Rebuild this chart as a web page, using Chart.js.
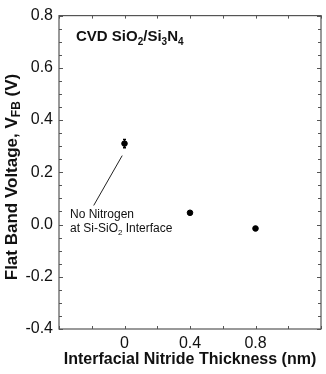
<!DOCTYPE html>
<html>
<head>
<meta charset="UTF-8">
<title>Flat Band Voltage vs Interfacial Nitride Thickness</title>
<script src="https://cdn.jsdelivr.net/npm/chart.js@4/dist/chart.umd.min.js"></script>
<style>
	html, body { margin: 0; padding: 0; background: #fff; }
	#wrap { width: 326px; height: 374px; }
</style>
</head>
<body>
<div id="wrap"><canvas id="vfbChart" width="326" height="374"></canvas></div>
<script>
	// data
	var thickness = [0, 0.4, 0.8];          // nm
	var vfb = [0.31, 0.045, -0.015];        // V
	var vfbErr = [0.016, 0, 0];             // +/- V
	var xTickLabels = [0, 0.4, 0.8];
	var yTickLabels = [-0.4, -0.2, 0.0, 0.2, 0.4, 0.6, 0.8];

	var FONT = '"Liberation Sans", Arial, sans-serif';
	var INK = '#111';
	var AXIS = '#555';

	// text made of runs, some of them subscripts
	function runsWidth(ctx, runs, size) {
		var w = 0;
		runs.forEach(function (r) {
			ctx.font = 'bold ' + (r.sub ? Math.round(size * 0.68) : size) + 'px ' + FONT;
			w += ctx.measureText(r.t).width;
		});
		return w;
	}
	function drawRuns(ctx, runs, x, y, size, weight) {
		var cx = x;
		runs.forEach(function (r) {
			ctx.font = weight + ' ' + (r.sub ? Math.round(size * 0.68) : size) + 'px ' + FONT;
			ctx.fillText(r.t, cx, r.sub ? y + size * 0.3 : y);
			cx += ctx.measureText(r.t).width;
		});
	}

	var extras = {
		id: 'extras',
		afterDatasetsDraw: function (chart) {
			var ctx = chart.ctx, a = chart.chartArea;
			var xs = chart.scales.x, ys = chart.scales.y;
			ctx.save();

			// frame
			ctx.strokeStyle = AXIS;
			ctx.lineWidth = 1.2;
			ctx.strokeRect(a.left, a.top, a.right - a.left, a.bottom - a.top);

			// inward ticks
			ctx.lineWidth = 1;
			ctx.beginPath();
			for (var i = 0; i <= 24; i++) {
				var v = -0.4 + i * 0.05;
				var py = Math.round(ys.getPixelForValue(v)) + 0.5;
				var len = (i % 4 === 0) ? 4 : 3;
				ctx.moveTo(a.left, py); ctx.lineTo(a.left + len, py);
				ctx.moveTo(a.right, py); ctx.lineTo(a.right - len, py);
			}
			for (var j = 0; j <= 8; j++) {
				var u = -0.4 + j * 0.2;
				var px = Math.round(xs.getPixelForValue(u)) + 0.5;
				ctx.moveTo(px, a.bottom); ctx.lineTo(px, a.bottom - 3);
				ctx.moveTo(px, a.top); ctx.lineTo(px, a.top + 3);
			}
			ctx.stroke();

			// error bars
			ctx.strokeStyle = '#000';
			ctx.lineWidth = 1.3;
			thickness.forEach(function (t, k) {
				if (!vfbErr[k]) return;
				var px = xs.getPixelForValue(t);
				var top = ys.getPixelForValue(vfb[k] + vfbErr[k]);
				var bot = ys.getPixelForValue(vfb[k] - vfbErr[k]);
				ctx.beginPath();
				ctx.moveTo(px, top); ctx.lineTo(px, bot);
				ctx.moveTo(px - 1.5, top); ctx.lineTo(px + 1.5, top);
				ctx.moveTo(px - 1.5, bot); ctx.lineTo(px + 1.5, bot);
				ctx.stroke();
			});

			// annotation pointer and text
			ctx.strokeStyle = '#222';
			ctx.lineWidth = 1;
			ctx.beginPath();
			ctx.moveTo(xs.getPixelForValue(-0.188), ys.getPixelForValue(0.073));
			ctx.lineTo(xs.getPixelForValue(-0.014), ys.getPixelForValue(0.264));
			ctx.stroke();

			ctx.fillStyle = INK;
			ctx.textAlign = 'left';
			ctx.textBaseline = 'middle';
			var ax = xs.getPixelForValue(-0.333);
			drawRuns(ctx, [{ t: 'No Nitrogen' }], ax, ys.getPixelForValue(0.036), 12, 'normal');
			drawRuns(ctx, [{ t: 'at Si-SiO' }, { t: '2', sub: true }, { t: ' Interface' }],
				ax, ys.getPixelForValue(-0.016), 12, 'normal');

			// sample label
			ctx.textBaseline = 'alphabetic';
			drawRuns(ctx, [{ t: 'CVD SiO' }, { t: '2', sub: true }, { t: '/Si' }, { t: '3', sub: true },
				{ t: 'N' }, { t: '4', sub: true }], a.left + 17, a.top + 25, 15, 'bold');

			// y axis title with subscript
			var yRuns = [{ t: 'Flat Band Voltage, V' }, { t: 'FB', sub: true }, { t: ' (V)' }];
			var w = runsWidth(ctx, yRuns, 17);
			ctx.translate(12, 177);
			ctx.rotate(-Math.PI / 2);
			ctx.textBaseline = 'middle';
			drawRuns(ctx, yRuns, -w / 2, 0, 17, 'bold');
			ctx.restore();
		}
	};

	var data = {
		datasets: [{
			data: thickness.map(function (t, i) { return { x: t, y: vfb[i] }; }),
			backgroundColor: '#000',
			borderColor: '#000',
			pointRadius: 2.8,
			pointHoverRadius: 2.8,
			showLine: false
		}]
	};

	var options = {
		responsive: false,
		animation: false,
		devicePixelRatio: 1,
		layout: { padding: { top: 8, right: 3, left: 0, bottom: 0 } },
		plugins: { legend: { display: false }, tooltip: { enabled: false } },
		scales: {
			x: {
				type: 'linear', min: -0.4, max: 1.2,
				afterFit: function (s) { s.height = 45; },
				grid: { drawOnChartArea: false, drawTicks: false },
				border: { display: false },
				ticks: {
					stepSize: 0.4, padding: 5, color: INK,
					font: { family: FONT, size: 16 },
					callback: function (v) {
						var r = Math.round(v * 10) / 10;
						return xTickLabels.indexOf(r) > -1 ? String(r) : '';
					}
				},
				title: {
					display: true, text: 'Interfacial Nitride Thickness (nm)', color: INK,
					font: { family: FONT, size: 16, weight: 'bold' },
					padding: { top: 0, bottom: 5 }
				}
			},
			y: {
				type: 'linear', min: -0.4, max: 0.8,
				afterFit: function (s) { s.width = 59; },
				grid: { drawOnChartArea: false, drawTicks: false },
				border: { display: false },
				ticks: {
					stepSize: 0.2, padding: 6, color: INK,
					font: { family: FONT, size: 16 },
					callback: function (v) {
						var r = Math.round(v * 10) / 10;
						return yTickLabels.indexOf(r) > -1 ? r.toFixed(1) : '';
					}
				}
			}
		}
	};

	var ctx = document.getElementById('vfbChart').getContext('2d');
	var vfbChart = new Chart(ctx, { type: 'scatter', data: data, options: options, plugins: [extras] });
</script>
</body>
</html>
